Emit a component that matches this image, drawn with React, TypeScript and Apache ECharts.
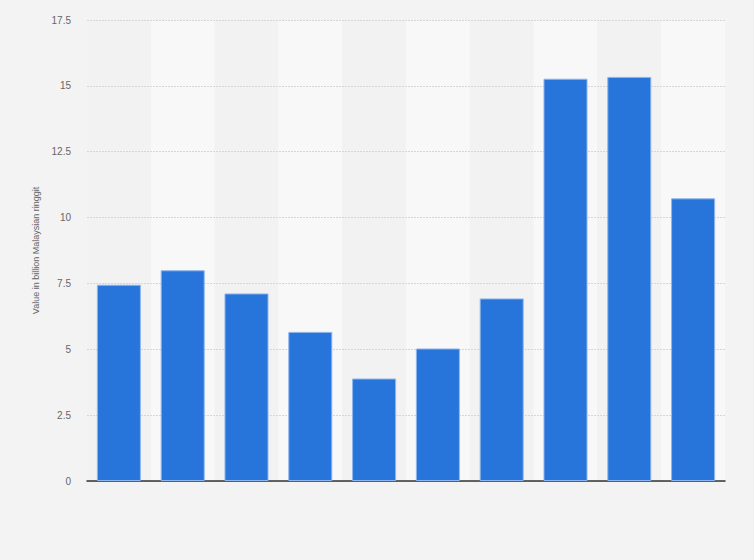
import React, { useEffect, useRef } from 'react';
import * as echarts from 'echarts';

const categories = ['2011', '2012', '2013', '2014', '2015', '2016', '2017', '2018', '2019', '2020'];
const values = [7.45, 8.0, 7.12, 5.66, 3.89, 5.03, 6.93, 15.27, 15.34, 10.73];
const yTicks = [0, 2.5, 5, 7.5, 10, 12.5, 15, 17.5];

const App = () => {
    const chartRef = useRef(null);

    useEffect(() => {
        document.body.style.margin = '0';
        const myChart = echarts.init(chartRef.current, null, { renderer: 'svg' });

        myChart.setOption({
            animation: false,
            backgroundColor: '#f3f3f3',
            grid: { left: 87, right: 29, top: 20, bottom: 79 },
            xAxis: [
                {
                    type: 'category',
                    data: categories,
                    z: 0,
                    axisLabel: { show: false },
                    axisTick: { show: false },
                    axisLine: { show: false },
                    splitArea: { show: true, areaStyle: { color: ['#f2f2f2', '#f8f8f8'] } },
                },
                {
                    // baseline drawn above the dotted grid line at 0
                    type: 'category',
                    data: categories,
                    position: 'bottom',
                    z: 2,
                    axisLabel: { show: false },
                    axisTick: { show: false },
                    axisLine: { lineStyle: { color: '#333', width: 1.5 } },
                },
            ],
            yAxis: {
                type: 'value',
                min: 0,
                max: yTicks[yTicks.length - 1],
                interval: 2.5,
                z: 1,
                name: 'Value in billion Malaysian ringgit',
                nameLocation: 'middle',
                nameGap: 44,
                nameTextStyle: { color: '#666', fontSize: 9, fontFamily: 'Liberation Sans' },
                axisLine: { show: false },
                axisTick: { show: false },
                axisLabel: {
                    color: '#666',
                    fontSize: 10,
                    fontFamily: 'Liberation Sans',
                    margin: 16,
                    formatter: (v: number) => String(v),
                },
                splitLine: { lineStyle: { color: '#d6d6d6', type: [2, 1] } },
            },
            series: [
                {
                    type: 'bar',
                    data: values,
                    xAxisIndex: 0,
                    z: 3,
                    barCategoryGap: '31%',
                    itemStyle: { color: '#2775da', borderColor: '#8fb6ec', borderWidth: 1 },
                },
            ],
        });

        return () => {
            myChart.dispose();
        };
    }, []);

    return <div ref={chartRef} style={{ width: '754px', height: '560px' }} />;
};

export default App;
